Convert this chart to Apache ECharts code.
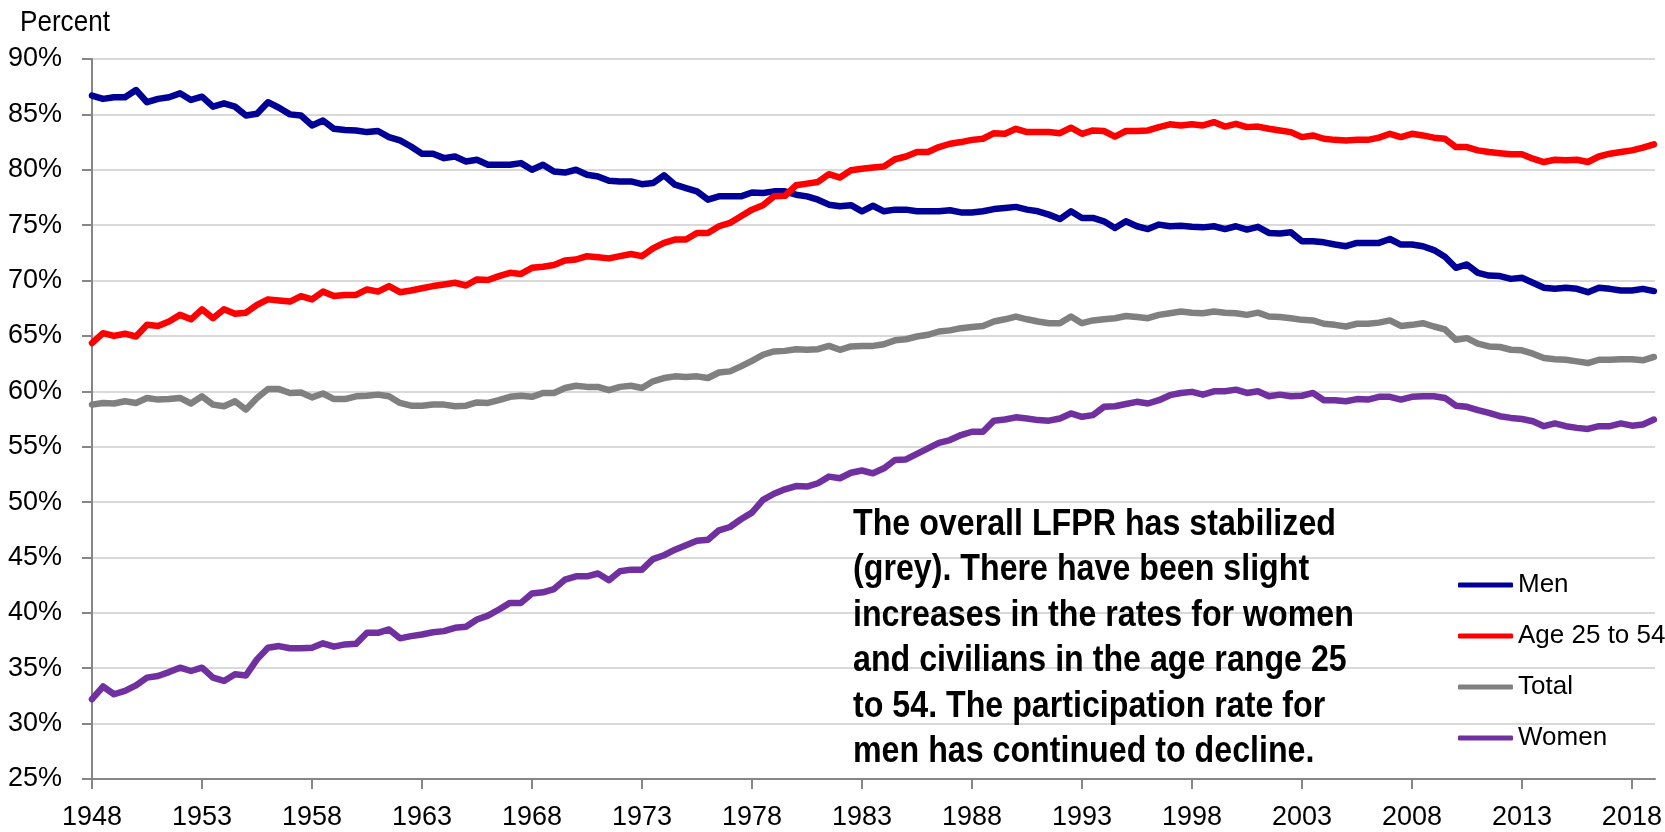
<!DOCTYPE html>
<html>
<head>
<meta charset="utf-8">
<script src="https://cdn.jsdelivr.net/npm/echarts@6/dist/echarts.min.js"></script>
<style>
html,body{margin:0;padding:0;background:#ffffff;}
#chart{width:1665px;height:832px;}
</style>
</head>
<body>
<div id="chart"></div>
<script>
// ---- Data (semi-annual readings, Jan 1948 .. Jan 2019) ----
const startYear = 1948;
const stepYears = 0.5;
const xTickYears = [1948, 1953, 1958, 1963, 1968, 1973, 1978, 1983, 1988, 1993, 1998, 2003, 2008, 2013, 2018];
const seriesNames = ['Men', 'Age 25 to 54', 'Total', 'Women'];

const men = [
  86.7,86.4,86.55,86.55,87.2,86.1,86.4,86.55,86.9,86.3,
  86.6,85.7,86.0,85.7,84.9,85.05,86.1,85.6,85.0,84.9,
  84.0,84.45,83.7,83.6,83.55,83.4,83.5,82.95,82.65,82.1,
  81.45,81.45,81.05,81.2,80.75,80.9,80.45,80.45,80.45,80.6,
  80.0,80.45,79.85,79.75,80.0,79.55,79.4,79.0,78.95,78.95,
  78.7,78.8,79.5,78.65,78.35,78.05,77.3,77.6,77.6,77.6,
  77.95,77.9,78.05,78.05,77.75,77.6,77.3,76.85,76.7,76.8,
  76.25,76.75,76.25,76.4,76.4,76.25,76.25,76.25,76.35,76.15,
  76.15,76.25,76.45,76.55,76.65,76.4,76.25,75.95,75.55,76.25,
  75.65,75.65,75.35,74.75,75.35,74.9,74.65,75.05,74.9,74.95,
  74.85,74.8,74.9,74.65,74.9,74.6,74.85,74.3,74.25,74.35,
  73.55,73.55,73.45,73.25,73.1,73.4,73.4,73.4,73.75,73.25,
  73.25,73.1,72.75,72.15,71.15,71.45,70.7,70.45,70.4,70.15,
  70.25,69.8,69.35,69.25,69.35,69.25,68.95,69.35,69.25,69.1,
  69.1,69.25,69.05
];

const age25to54 = [
  64.35,65.25,65.0,65.2,64.95,66.0,65.9,66.3,66.9,66.5,
  67.4,66.6,67.4,67.0,67.1,67.8,68.3,68.2,68.1,68.6,
  68.3,69.0,68.6,68.7,68.7,69.2,69.0,69.5,68.95,69.1,
  69.3,69.5,69.65,69.8,69.55,70.1,70.05,70.4,70.7,70.6,
  71.15,71.25,71.4,71.8,71.9,72.2,72.1,72.0,72.2,72.4,
  72.2,72.9,73.4,73.7,73.7,74.3,74.3,74.9,75.2,75.8,
  76.4,76.8,77.6,77.65,78.6,78.75,78.9,79.6,79.3,79.95,
  80.1,80.2,80.3,80.95,81.2,81.6,81.6,82.05,82.35,82.5,
  82.7,82.8,83.3,83.25,83.7,83.4,83.4,83.4,83.3,83.8,
  83.25,83.55,83.5,83.0,83.5,83.5,83.55,83.85,84.1,84.0,
  84.1,84.0,84.3,83.9,84.15,83.85,83.9,83.7,83.55,83.4,
  82.95,83.1,82.8,82.7,82.65,82.7,82.7,82.9,83.25,82.95,
  83.25,83.1,82.9,82.8,82.05,82.05,81.75,81.6,81.5,81.4,
  81.4,81.0,80.7,80.9,80.85,80.9,80.7,81.2,81.45,81.6,
  81.75,82.0,82.3
];

const total = [
  58.8,58.95,58.9,59.1,58.95,59.4,59.25,59.3,59.4,58.9,
  59.55,58.8,58.65,59.1,58.35,59.4,60.2,60.2,59.85,59.9,
  59.45,59.8,59.3,59.3,59.55,59.6,59.7,59.55,58.95,58.7,
  58.7,58.8,58.8,58.65,58.7,59.0,58.95,59.2,59.5,59.6,
  59.5,59.85,59.85,60.3,60.5,60.4,60.4,60.1,60.4,60.5,
  60.3,60.9,61.2,61.35,61.3,61.35,61.2,61.7,61.8,62.25,
  62.75,63.3,63.6,63.65,63.8,63.75,63.8,64.1,63.75,64.05,
  64.1,64.1,64.25,64.6,64.7,64.95,65.1,65.4,65.5,65.7,
  65.8,65.9,66.3,66.5,66.75,66.5,66.3,66.15,66.15,66.75,
  66.15,66.4,66.5,66.6,66.8,66.7,66.6,66.9,67.05,67.2,
  67.1,67.05,67.2,67.1,67.05,66.9,67.1,66.75,66.7,66.6,
  66.45,66.4,66.1,66.0,65.85,66.1,66.1,66.2,66.4,65.9,
  66.0,66.15,65.85,65.6,64.65,64.8,64.3,64.05,64.0,63.75,
  63.7,63.4,63.0,62.9,62.85,62.7,62.55,62.85,62.85,62.9,
  62.9,62.8,63.1
];

const women = [
  32.2,33.35,32.65,32.95,33.45,34.15,34.3,34.65,35.05,34.75,
  35.05,34.15,33.85,34.45,34.35,35.8,36.85,37.0,36.8,36.8,
  36.85,37.25,36.95,37.15,37.2,38.2,38.2,38.5,37.7,37.9,
  38.05,38.25,38.35,38.65,38.75,39.4,39.75,40.3,40.9,40.9,
  41.75,41.85,42.15,43.0,43.3,43.3,43.55,42.95,43.75,43.9,
  43.9,44.85,45.2,45.7,46.1,46.5,46.6,47.45,47.75,48.45,
  49.05,50.2,50.75,51.15,51.45,51.4,51.7,52.3,52.15,52.65,
  52.85,52.6,53.05,53.8,53.85,54.35,54.85,55.35,55.6,56.05,
  56.35,56.35,57.35,57.45,57.65,57.55,57.4,57.35,57.55,58.0,
  57.7,57.85,58.6,58.65,58.85,59.05,58.9,59.2,59.65,59.85,
  59.95,59.7,60.0,60.0,60.15,59.85,60.0,59.55,59.7,59.55,
  59.6,59.85,59.2,59.2,59.1,59.3,59.25,59.5,59.5,59.25,
  59.5,59.55,59.55,59.4,58.7,58.6,58.3,58.05,57.75,57.6,
  57.5,57.3,56.85,57.1,56.85,56.7,56.6,56.85,56.85,57.1,
  56.9,57.0,57.45
];

const annotationLines = [
  'The overall LFPR has stabilized',
  '(grey). There have been slight',
  'increases in the rates for women',
  'and civilians in the age range 25',
  'to 54. The participation rate for',
  'men has continued to decline.'
];
const yAxisTitle = 'Percent';

// ---- Chart ----
const FONT = "'Liberation Sans',Arial,Helvetica,sans-serif";
const colors = ['#000096', '#ff0000', '#808080', '#7030a0'];
const seriesValues = [men, age25to54, total, women];

function toPairs(arr) { return arr.map((v, i) => [i * stepYears, v]); }

const tickOffsets = xTickYears.map(y => y - startYear);

const chart = echarts.init(document.getElementById('chart'), null, {renderer: 'canvas'});
const option = {
  animation: false,
  backgroundColor: '#ffffff',
  grid: {left: 92, right: 10, top: 59, bottom: 53, containLabel: false, outerBoundsMode: 'none'},
  xAxis: {
    type: 'value',
    min: 0,
    max: 71.05,
    interval: 5,
    axisLine: {show: true, lineStyle: {color: '#868686', width: 2}},
    axisTick: {show: true, inside: false, length: 10, customValues: tickOffsets,
      lineStyle: {color: '#868686', width: 2}},
    axisLabel: {
      customValues: tickOffsets,
      color: '#000', fontSize: 27, fontFamily: FONT, margin: 25,
      formatter: function (v) {
        const r = Math.round(v);
        if (Math.abs(v - r) > 1e-6 || r % 5 !== 0) return '';
        return String(r + startYear);
      }
    },
    splitLine: {show: false}
  },
  yAxis: {
    type: 'value',
    min: 25,
    max: 90,
    interval: 5,
    axisLine: {show: true, lineStyle: {color: '#868686', width: 2}},
    axisTick: {show: true, inside: false, length: 10, lineStyle: {color: '#868686', width: 2}},
    axisLabel: {formatter: '{value}%', color: '#000', fontSize: 27, fontFamily: FONT, margin: 30},
    splitLine: {show: true, lineStyle: {color: '#d9d9d9', width: 2}}
  },
  legend: {
    orient: 'vertical',
    left: 1453,
    top: 564,
    itemWidth: 55,
    itemHeight: 5,
    itemGap: 19,
    icon: 'roundRect',
    data: seriesNames,
    textStyle: {color: '#000', fontSize: 26, fontFamily: FONT, lineHeight: 32},
    selectedMode: false
  },
  series: seriesNames.map((name, k) => ({
    name: name,
    type: 'line',
    data: toPairs(seriesValues[k]),
    symbol: 'none',
    showSymbol: false,
    smooth: false,
    color: colors[k],
    itemStyle: {color: colors[k]},
    lineStyle: {color: colors[k], width: 6.5, cap: 'round', join: 'round'},
    emphasis: {disabled: true},
    z: 2 + k
  })),
  graphic: [
    {
      type: 'text',
      x: 20,
      y: 8,
      scaleX: 0.87,
      style: {x: 0, y: 0, text: yAxisTitle, fill: '#000', fontSize: 30, fontFamily: FONT,
        align: 'left', verticalAlign: 'top'}
    },
    {
      type: 'text',
      x: 853,
      y: 502,
      scaleX: 0.87,
      z: 10,
      style: {
        x: 0, y: 0,
        text: annotationLines.join('\n'),
        fill: '#000',
        fontSize: 37,
        fontWeight: 'bold',
        fontFamily: FONT,
        lineHeight: 45.5,
        align: 'left',
        verticalAlign: 'top'
      }
    }
  ]
};
chart.setOption(option);
</script>
</body>
</html>
